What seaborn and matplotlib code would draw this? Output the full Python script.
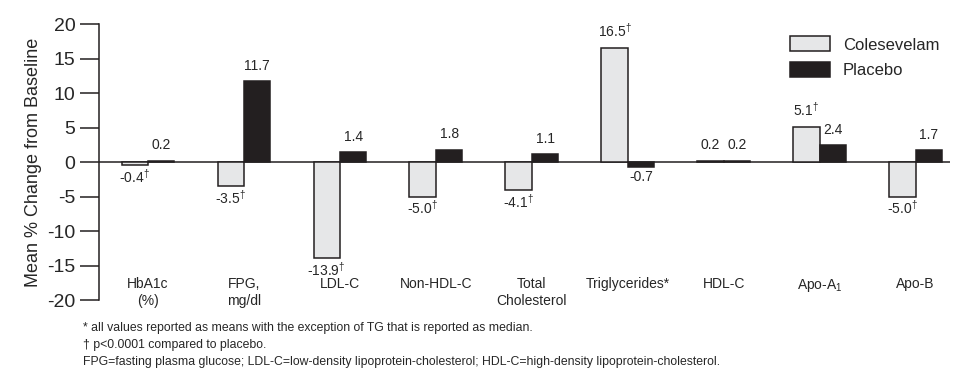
"""Colesevelam vs placebo: mean % change from baseline"""

import matplotlib
matplotlib.use("Agg")
import matplotlib.pyplot as plt
import pandas as pd
import seaborn as sns

measures = ["HbA1c\n(%)", "FPG,\nmg/dl", "LDL-C", "Non-HDL-C", "Total\nCholesterol",
            "Triglycerides*", "HDL-C", "Apo-A$_1$", "Apo-B"]
colesevelam = [-0.4, -3.5, -13.9, -5.0, -4.1, 16.5, 0.2, 5.1, -5.0]
placebo = [0.2, 11.7, 1.4, 1.8, 1.1, -0.7, 0.2, 2.4, 1.7]
# p<0.0001 vs placebo
coles_sig = [True, True, True, True, True, True, False, True, True]
yticks = [-20, -15, -10, -5, 0, 5, 10, 15, 20]
footnotes = [
    "* all values reported as means with the exception of TG that is reported as median.",
    "\u2020 p<0.0001 compared to placebo.",
    "FPG=fasting plasma glucose; LDL-C=low-density lipoprotein-cholesterol; "
    "HDL-C=high-density lipoprotein-cholesterol.",
]

sns.set_style("ticks")
plt.rcParams["font.family"] = ["Liberation Sans", "DejaVu Sans"]
plt.rcParams["axes.unicode_minus"] = False
plt.rcParams["mathtext.fontset"] = "custom"
plt.rcParams["mathtext.rm"] = "Liberation Sans"
plt.rcParams["mathtext.it"] = "Liberation Sans"

df = pd.DataFrame({
    "measure": measures * 2,
    "change": colesevelam + placebo,
    "group": ["Colesevelam"] * len(measures) + ["Placebo"] * len(measures),
})

fig = plt.figure(figsize=(9.56, 3.78), dpi=100)
ax = fig.add_axes([0.1036, 0.2063, 0.8904, 0.7302])

sns.barplot(data=df, x="measure", y="change", hue="group", order=measures,
            palette={"Colesevelam": "#e6e7e8", "Placebo": "#231f20"},
            width=0.55, errorbar=None, edgecolor="#231f20", linewidth=1.1,
            saturation=1, ax=ax)

ax.axhline(0, color="#231f20", lw=1.1, zorder=0.5)
ax.set_xlim(-0.51, 8.36)
ax.set_ylim(-20, 20)
ax.set_yticks(yticks)
ax.tick_params(axis="y", length=14, width=1.1, labelsize=14, pad=3, color="#231f20")
ax.tick_params(axis="x", length=0, labelbottom=False)
for s in ["top", "right", "bottom"]:
    ax.spines[s].set_visible(False)
ax.spines["left"].set_linewidth(1.1)
ax.spines["left"].set_color("#231f20")
ax.set_xlabel("")
ax.set_ylabel("Mean % Change from Baseline", fontsize=13, labelpad=4)

# value labels
for cont, vals, sig in [(ax.containers[0], colesevelam, coles_sig),
                        (ax.containers[1], placebo, [False] * len(placebo))]:
    for bar, v, d in zip(cont, vals, sig):
        txt = f"{v:.1f}" + ("$^{\\dagger}$" if d else "")
        x = bar.get_x() + bar.get_width() / 2
        if v >= 0:
            ax.annotate(txt, (x, v), xytext=(0, 6), textcoords="offset points",
                        ha="center", va="bottom", fontsize=10)
        else:
            ax.annotate(txt, (x, v), xytext=(0, -2), textcoords="offset points",
                        ha="center", va="top", fontsize=10)

# category labels inside the axes
for i, m in enumerate(measures):
    ax.text(i, -16.6, m, ha="center", va="top", fontsize=10, linespacing=1.3)

ax.legend(loc="upper left", bbox_to_anchor=(0.812, 0.955), frameon=False,
          fontsize=12, handlelength=2.4, handleheight=1.0, handletextpad=0.75,
          labelspacing=0.55, borderpad=0, borderaxespad=0)

for k, t in enumerate(footnotes):
    fig.text(0.087, 1 - (328 + 17 * k) / 378, t, fontsize=8.8, va="center", ha="left")

fig.savefig("out.png", dpi=100)
